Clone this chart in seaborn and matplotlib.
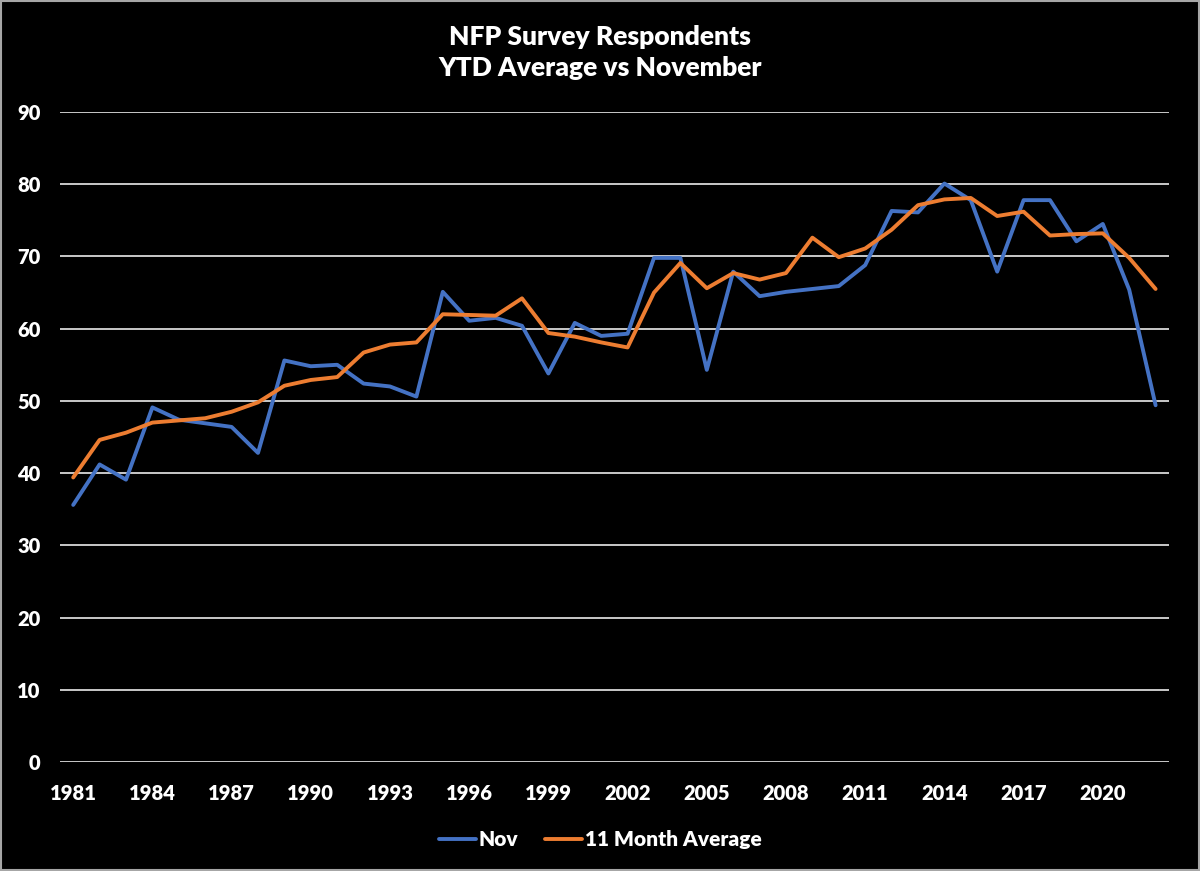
import matplotlib
matplotlib.use("Agg")
import matplotlib.pyplot as plt
import seaborn as sns
import pandas as pd
from matplotlib.patches import Rectangle

years = list(range(1981, 2023))
nov = [35.6, 41.2, 39.1, 49.1, 47.4, 46.9, 46.4, 42.8, 55.6, 54.8,
       55.0, 52.4, 52.0, 50.6, 65.1, 61.1, 61.5, 60.4, 53.8, 60.8,
       59.0, 59.3, 69.8, 69.8, 54.3, 67.9, 64.5, 65.1, 65.5, 65.9,
       68.8, 76.3, 76.1, 80.1, 77.8, 67.9, 77.8, 77.8, 72.1, 74.5,
       65.4, 49.4]
avg11 = [39.4, 44.6, 45.6, 47.0, 47.3, 47.6, 48.5, 49.8, 52.1, 52.9,
         53.3, 56.7, 57.8, 58.1, 62.0, 61.9, 61.8, 64.2, 59.4, 58.9,
         58.1, 57.4, 65.0, 69.1, 65.6, 67.7, 66.8, 67.7, 72.6, 69.9,
         71.1, 73.7, 77.1, 77.9, 78.1, 75.6, 76.2, 72.9, 73.1, 73.2,
         69.8, 65.5]
series_names = ["Nov", "11 Month Average"]
colors = ["#4472C4", "#ED7D31"]
title = "NFP Survey Respondents\nYTD Average vs November"
xtick_years = list(range(1981, 2021, 3))
ytick_vals = list(range(0, 91, 10))

df = pd.DataFrame({
    "year": years * 2,
    "value": nov + avg11,
    "series": [series_names[0]] * len(years) + [series_names[1]] * len(years),
})

sns.set_theme(style="dark")
plt.rcParams["font.family"] = ["Lato", "DejaVu Sans"]
plt.rcParams["font.weight"] = "heavy"

fig = plt.figure(figsize=(12, 8.71), dpi=100, facecolor="black")
ax = fig.add_axes([0.05, 0.1251, 0.924, 0.7463])
ax.set_facecolor("black")

sns.lineplot(data=df, x="year", y="value", hue="series", hue_order=series_names,
             palette=colors, linewidth=2.8, ax=ax, legend=True)

ax.set_xlim(1980.5, 2022.5)
ax.set_ylim(0, 90)
ax.set_yticks(ytick_vals)
ax.set_xticks(xtick_years)
ax.set_xticklabels([str(y) for y in xtick_years], color="white", fontsize=14.5, fontweight="heavy")
ax.set_yticklabels([str(v) for v in ytick_vals], color="white", fontsize=14.5, fontweight="heavy")
ax.tick_params(axis="both", length=0)
ax.tick_params(axis="x", pad=16)
ax.tick_params(axis="y", pad=14)
ax.grid(axis="y", color="#d9d9d9", linewidth=1.3)
ax.grid(axis="x", visible=False)
ax.set_axisbelow(True)
for s in ax.spines.values():
    s.set_visible(False)
ax.set_xlabel("")
ax.set_ylabel("")

leg = ax.legend(loc="center", bbox_to_anchor=(0.5, 0.036), bbox_transform=fig.transFigure,
                ncol=2, frameon=False, handlelength=1.8, columnspacing=1.3, handletextpad=0.1,
                prop={"size": 15, "weight": "heavy"})
for t in leg.get_texts():
    t.set_color("white")
for h in leg.get_lines():
    h.set_linewidth(2.8)

fig.text(0.5, 0.94, title, ha="center", va="center", color="white",
         fontsize=19, fontweight="heavy", linespacing=1.35)

fig.patches.append(Rectangle((0.001, 0.001), 0.998, 0.998, transform=fig.transFigure,
                             fill=False, edgecolor="#a6a6a6", linewidth=1.5))

fig.savefig("out.png", dpi=100, facecolor="black")
